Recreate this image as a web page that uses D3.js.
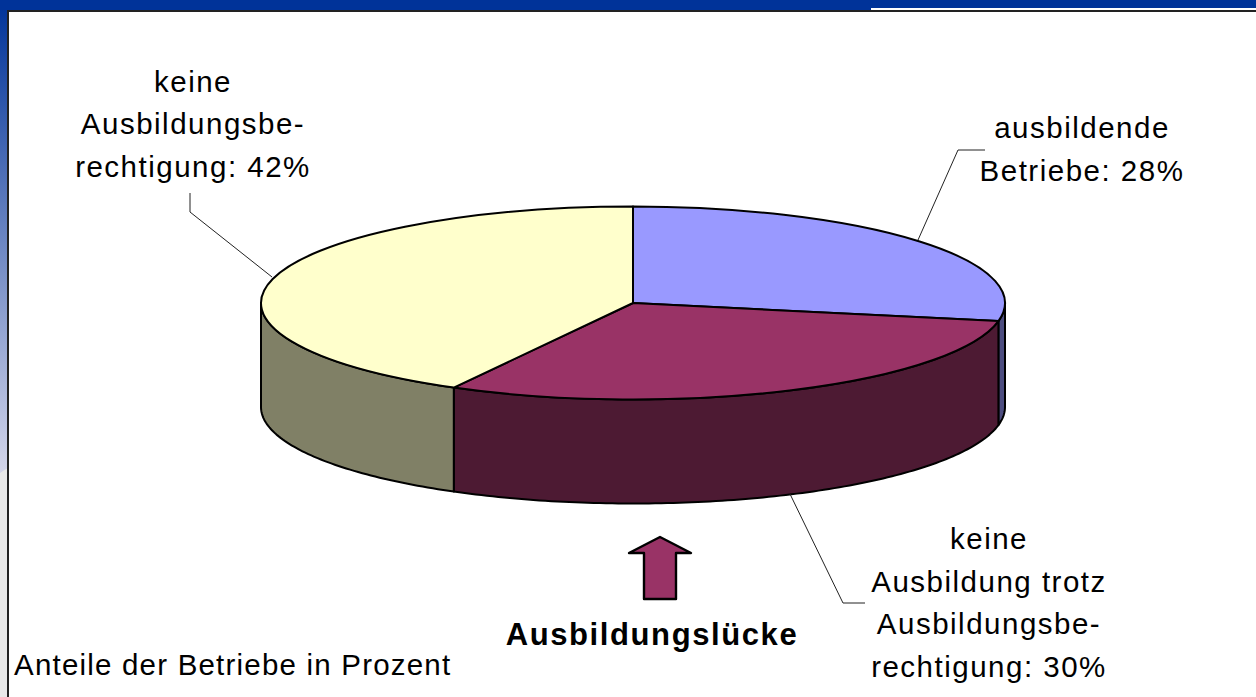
<!DOCTYPE html>
<html><head><meta charset="utf-8">
<style>html,body{margin:0;padding:0;background:#fff}svg{display:block}
text{font-family:"Liberation Sans",Arial,sans-serif;fill:#000}</style>
<script src="https://cdn.jsdelivr.net/npm/d3@7"></script></head>
<body><script>
const categories = ["ausbildende Betriebe", "keine Ausbildung trotz Ausbildungsberechtigung", "keine Ausbildungsberechtigung"];
const values = [28, 30, 42];
const topColors = ["#9999FF", "#993366", "#FFFFCC"];
const wallColors = ["#4D4D80", "#4D1A33", "#808066"];
const labelLines = [
  ["ausbildende", "Betriebe: 28%"],
  ["keine", "Ausbildung trotz", "Ausbildungsbe-", "rechtigung: 30%"],
  ["keine", "Ausbildungsbe-", "rechtigung: 42%"]
];
const gapLabel = "Ausbildungslücke";
const noteLabel = "Anteile der Betriebe in Prozent";

const W = 1256, H = 697;
const svg = d3.select("body").append("svg").attr("width", W).attr("height", H);
const defs = svg.append("defs");
const grad = defs.append("linearGradient").attr("id", "bg").attr("x1", 0).attr("x2", 0).attr("y1", 0).attr("y2", 1);
grad.append("stop").attr("offset", 0).attr("stop-color", "#003399");
grad.append("stop").attr("offset", 0.68).attr("stop-color", "#d4d6ea");

// slide background and white chart panel
svg.append("rect").attr("width", W).attr("height", H).attr("fill", "url(#bg)");
svg.append("path").attr("d", "M0,473 Q4,470 8,468 L8,697 L0,697Z").attr("fill", "#e9e9e9");
svg.append("rect").attr("width", W).attr("height", 10).attr("fill", "#003399");
svg.append("rect").attr("x", 871).attr("y", 8).attr("width", W - 871).attr("height", 2).attr("fill", "#fff");
svg.append("rect").attr("x", 8).attr("y", 11).attr("width", W).attr("height", H).attr("fill", "#fff").attr("stroke", "#222").attr("stroke-width", 2);

// pie geometry
const cx = 633, cy = 303, rx = 372, ry = 96.5, depth = 104;
const pie = d3.pie().sort(null).value(d => d)(values);
const px = a => cx + rx * Math.sin(a);
const py = a => cy - ry * Math.cos(a);
const line = d3.line().x(d => d[0]).y(d => d[1]);

// walls: only the front half of the rim (angles between PI/2 and 3PI/2) is visible
const wall = svg.append("g");
pie.forEach((s, i) => {
  const a0 = Math.max(s.startAngle, Math.PI / 2), a1 = Math.min(s.endAngle, 3 * Math.PI / 2);
  if (a1 <= a0) return;
  const n = Math.max(2, Math.ceil((a1 - a0) * 60));
  const angs = d3.range(n + 1).map(k => a0 + (a1 - a0) * k / n);
  const pts = angs.map(a => [px(a), py(a)]).concat(angs.slice().reverse().map(a => [px(a), py(a) + depth]));
  wall.append("path").attr("d", line(pts) + "Z").attr("fill", wallColors[i])
    .attr("stroke", "#000").attr("stroke-width", 2).attr("stroke-linejoin", "round");
});

// top face: circular d3.arc flattened into an ellipse
const arc = d3.arc().innerRadius(0).outerRadius(rx);
svg.append("g").attr("transform", `translate(${cx},${cy}) scale(1,${ry / rx})`)
  .selectAll("path").data(pie).join("path")
  .attr("d", arc).attr("fill", (d, i) => topColors[i])
  .attr("stroke", "#000").attr("stroke-width", 2).attr("stroke-linejoin", "round")
  .attr("vector-effect", "non-scaling-stroke");

// leader lines
const leaders = [
  [[918, 240], [958, 150], [985, 150]],
  [[790, 494], [843, 603], [865, 603]],
  [[272, 277], [190, 212], [190, 193]]
];
svg.selectAll("path.leader").data(leaders).join("path").attr("class", "leader")
  .attr("d", line).attr("fill", "none").attr("stroke", "#222").attr("stroke-width", 1);

// labels
const labelPos = [{x: 1082, y: 138}, {x: 989, y: 549}, {x: 193, y: 91.5}];
labelLines.forEach((lines, i) => {
  const t = svg.append("text").attr("text-anchor", "middle").attr("font-size", 29.5).attr("letter-spacing", 1.5);
  lines.forEach((l, k) => t.append("tspan").attr("x", labelPos[i].x).attr("y", labelPos[i].y + k * 42.5).text(l));
});

// arrow
const arrow = [[660, 537], [691, 553], [676, 553], [676, 599], [644, 599], [644, 553], [629, 553]];
svg.append("path").attr("d", line(arrow) + "Z").attr("fill", topColors[1])
  .attr("stroke", "#000").attr("stroke-width", 2.4).attr("stroke-linejoin", "round");

svg.append("text").attr("x", 652).attr("y", 645).attr("text-anchor", "middle")
  .attr("font-size", 31).attr("font-weight", "bold").attr("letter-spacing", 1.6).text(gapLabel);
svg.append("text").attr("x", 14).attr("y", 674.5).attr("font-size", 29.5).attr("letter-spacing", 1.2).text(noteLabel);
</script></body></html>
